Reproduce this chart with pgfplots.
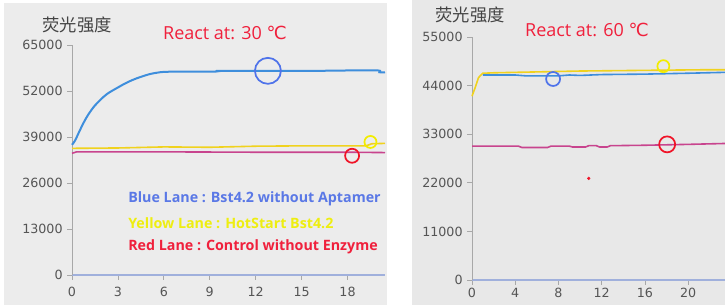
\documentclass[border=0pt]{standalone}
\usepackage{fontspec}
\setmainfont{DejaVu Sans}
\newfontfamily\osans{Open Sans}
\newfontfamily\cjk{Noto Sans CJK SC}
\newfontfamily\dv{DejaVu Sans}
\usepackage{pgfplots}
\pgfplotsset{compat=1.18}
\definecolor{bgL}{HTML}{ECECEC}
\definecolor{bgR}{HTML}{E8E8E8}
\definecolor{ticklab}{HTML}{555555}
\definecolor{blueline}{HTML}{3E8EDC}
\definecolor{yellowline}{HTML}{F0D21E}
\definecolor{redline}{HTML}{C8448E}
\definecolor{circBlue}{HTML}{4F73EA}
\definecolor{circYellow}{HTML}{F2EC00}
\definecolor{circRed}{HTML}{F01428}
\definecolor{txtBlue}{HTML}{5A78E6}
\definecolor{txtYellow}{HTML}{EEEE10}
\definecolor{txtRed}{HTML}{F0203C}
\definecolor{xaxisc}{HTML}{A0B0DC}
\definecolor{yaxisc}{HTML}{A8A8A8}
\definecolor{cjkc}{HTML}{444444}
\pgfplotsset{panel/.style={
  scale only axis, axis x line*=bottom, axis y line*=left,
  tick align=outside, major tick length=3.5pt,
  xmin=0, ymin=0, scaled y ticks=false, scaled x ticks=false,
  tick style={color=yaxisc, line width=0.6pt},
  x axis line style={color=xaxisc, line width=0.8pt},
  y axis line style={color=yaxisc, line width=0.6pt},
  ticklabel style={font=\fontsize{9.5}{10}\selectfont, text=ticklab},
  /pgf/number format/1000 sep={},
  /pgf/number format/assume math mode=true,
  clip=false,
}}
\begin{document}
\begin{tikzpicture}
\fill[white] (0,0) rectangle (543.75pt,228.75pt);
\fill[bgL] (3pt,0) rectangle (290.25pt,226.5pt);
\fill[bgR] (309pt,0) rectangle (543.75pt,228.75pt);
% Left panel
\begin{axis}[panel, at={(54pt,22.5pt)}, anchor=south west,
  width=234.75pt, height=172.5pt, xmax=20.45, ymax=65000,
  xticklabel style={yshift=-2pt},
  xtick={0,3,...,18}, ytick={0,13000,26000,39000,52000,65000}]
\addplot[blueline, line width=1.5pt, smooth] coordinates {
(0,36800) (0.2,38000) (0.45,40300) (0.73,42800) (1.0,44900) (1.4,47400) (1.83,49400)
(2.3,51200) (3,53000) (3.5,54200) (4,55200) (4.5,56000) (5.1,56800) (5.6,57200)
(6,57400) (7,57500) (8,57500) (9.4,57500) (9.6,57700) (12,57700) (14,57700)
(16,57700) (18,57800) (20.0,57800) (20.1,57300) (20.45,57300)};
\addplot[yellowline, line width=1.2pt] coordinates {
(0,35800) (3,35900) (6,36200) (9,36100) (12,36400) (15,36500) (18,36500)
(19.2,36500) (19.6,37100) (20.45,37200)};
\addplot[redline, line width=1.2pt] coordinates {
(0,34400) (0.3,34800) (3,34800) (6,34800) (12,34700) (18,34700) (20.45,34600)};
\addplot[only marks, mark=o, mark size=9.75pt, mark options={draw=circBlue, line width=1.3pt}] coordinates {(12.8,57700)};
\addplot[only marks, mark=o, mark size=4.5pt, mark options={draw=circYellow, line width=1.3pt}] coordinates {(19.5,37600)};
\addplot[only marks, mark=o, mark size=5.25pt, mark options={draw=circRed, line width=1.3pt}] coordinates {(18.3,33700)};
\end{axis}
% Right panel
\begin{axis}[panel, at={(354pt,18.75pt)}, anchor=south west,
  width=189.75pt, height=182.25pt, xmax=23.4, ymax=55000,
  xticklabel style={yshift=1pt},
  xtick={0,4,...,20}, ytick={0,11000,22000,33000,44000,55000}]
\addplot[redline, line width=1.2pt] coordinates {
(0,30300) (4.3,30300) (4.6,30000) (7,30000) (7.3,30300) (9,30300) (9.3,30100)
(10.5,30100) (10.8,30400) (11.5,30400) (11.8,30100) (12.5,30100) (12.8,30400)
(16,30500) (20,30700) (23.4,30900)};
\addplot[yellowline, line width=1.2pt] coordinates {
(0,41600) (0.3,43600) (0.6,45800) (1,46800) (2,46900) (6,47100) (10,47300)
(14,47400) (18,47500) (22,47600) (23.4,47600)};
\addplot[blueline, line width=1.2pt] coordinates {
(1,46400) (4,46400) (5,46200) (8,46200) (9,46400) (10,46300) (12,46500)
(16,46600) (20,46800) (23.4,47000)};
\addplot[only marks, mark=o, mark size=5.25pt, mark options={draw=circBlue, line width=1.3pt}] coordinates {(7.5,45500)};
\addplot[only marks, mark=o, mark size=4.5pt, mark options={draw=circYellow, line width=1.3pt}] coordinates {(17.7,48400)};
\addplot[only marks, mark=o, mark size=6pt, mark options={draw=circRed, line width=1.3pt}] coordinates {(18.05,30700)};
\addplot[only marks, mark=*, mark size=1pt, mark options={draw=circRed, fill=circRed}] coordinates {(10.8,23000)};
\end{axis}
% Texts
\node[text=cjkc, font=\cjk\fontsize{13}{14}\selectfont] at (57.75pt,210pt) {荧光强度};
\node[text=cjkc, font=\cjk\fontsize{13}{14}\selectfont] at (352.5pt,217.5pt) {荧光强度};
\node[text=txtRed, font=\osans\fontsize{13.5}{14}\selectfont] at (168.75pt,204pt) {React at: 30 {\dv ℃}};
\node[text=txtRed, font=\osans\fontsize{13.5}{14}\selectfont] at (440.25pt,206.25pt) {React at: 60 {\dv ℃}};
\node[anchor=west, inner sep=0pt, text=txtBlue, font=\osans\bfseries\fontsize{10.7}{12}\selectfont] at (96pt,79.5pt) {Blue Lane : Bst4.2 without Aptamer};
\node[anchor=west, inner sep=0pt, text=txtYellow, font=\osans\bfseries\fontsize{10.7}{12}\selectfont] at (96pt,61.5pt) {Yellow Lane : HotStart Bst4.2};
\node[anchor=west, inner sep=0pt, text=txtRed, font=\osans\bfseries\fontsize{10.7}{12}\selectfont] at (96pt,43.5pt) {Red Lane : Control without Enzyme};
\pgfresetboundingbox
\useasboundingbox (0,0) rectangle (543.75pt,228.75pt);
\end{tikzpicture}
\end{document}
